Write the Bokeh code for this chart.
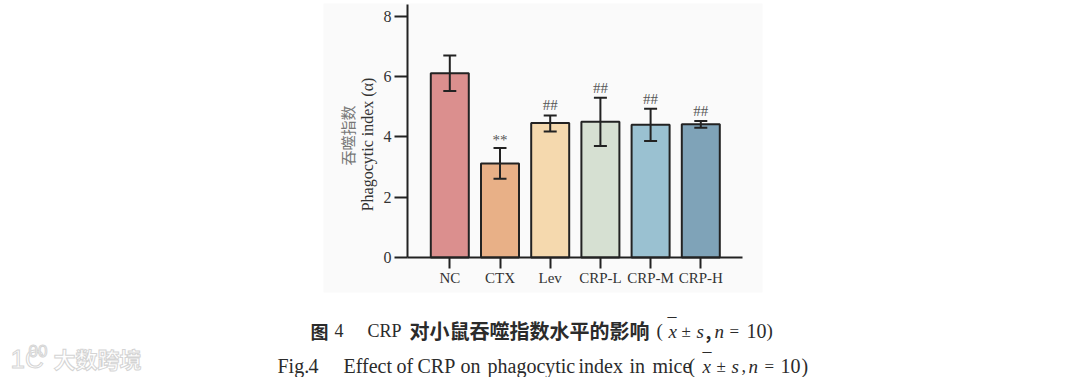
from bokeh.plotting import figure
from bokeh.models import ColumnDataSource, Range1d, Label, Whisker, TeeHead, BoxAnnotation, FixedTicker
from bokeh.core.properties import value
from bokeh.embed import file_html
from bokeh.resources import INLINE
import math

groups = ["NC", "CTX", "Lev", "CRP-L", "CRP-M", "CRP-H"]
means = [6.11, 3.12, 4.46, 4.50, 4.40, 4.42]
upper = [6.70, 3.63, 4.71, 5.30, 4.93, 4.53]
lower = [5.52, 2.61, 4.18, 3.70, 3.86, 4.30]
colors = ["#DB8F8E", "#E8B087", "#F5D9AE", "#D6E0D2", "#9AC1D1", "#7FA3B8"]
marks = ["", "**", "##", "##", "##", "##"]
y_ticks = [0, 2, 4, 6, 8]

SERIF = "Liberation Serif"
CJK = "Noto Sans CJK SC"
caption_1 = [
    ("图", 310, 330, CJK, "bold", 18), ("4", 334, 330, SERIF, "normal", 18),
    ("CRP", 367, 330, SERIF, "normal", 18),
    ("对小鼠吞噬指数水平的影响", 409, 330, CJK, "bold", 20),
    ("(", 656, 330, SERIF, "normal", 19), ("x", 668, 331, SERIF, "italic", 19),
    ("–", 667, 315, SERIF, "normal", 18), ("±", 681, 331, SERIF, "normal", 17),
    ("s", 696, 331, SERIF, "italic", 19), (",", 705, 331, CJK, "bold", 18),
    ("n", 714, 331, SERIF, "italic", 19), ("=", 729, 331, SERIF, "normal", 17),
    ("10", 746, 330, SERIF, "normal", 20), (")", 766, 330, SERIF, "normal", 19),
]
caption_2 = [
    ("Fig.", 277, 365, SERIF, "normal", 20), ("4", 308, 365, SERIF, "normal", 20),
    ("Effect", 343, 365, SERIF, "normal", 20), ("of", 396, 365, SERIF, "normal", 20),
    ("CRP", 417, 365, SERIF, "normal", 20), ("on", 460, 365, SERIF, "normal", 20),
    ("phagocytic", 487, 365, SERIF, "normal", 20), ("index", 578, 365, SERIF, "normal", 20),
    ("in", 629, 365, SERIF, "normal", 20), ("mice", 652, 365, SERIF, "normal", 20),
    ("(", 688, 365, SERIF, "normal", 20), ("x", 702, 366, SERIF, "italic", 19),
    ("–", 702, 350, SERIF, "normal", 18), ("±", 716, 366, SERIF, "normal", 17),
    ("s", 731, 366, SERIF, "italic", 19), (",", 741, 365, SERIF, "normal", 18),
    ("n", 748, 366, SERIF, "italic", 19), ("=", 764, 366, SERIF, "normal", 17),
    ("10", 780, 365, SERIF, "normal", 20), (")", 801, 365, SERIF, "normal", 20),
]

W, H = 1080, 377
X0, DX = 449.3, 50.2   # page x of first category, px per category
Y0, DY = 257, 30.16    # page y of value 0, px per unit
AX_L, AX_R, AX_T = 407, 741.6, 4

xs = list(range(len(groups)))
src = ColumnDataSource(dict(x=xs, m=means, u=upper, l=lower, c=colors, t=marks,
                            off=[0 if t == "**" else -2 for t in marks]))

p = figure(width=W, height=H, output_backend="svg", toolbar_location=None,
           x_range=Range1d(-X0 / DX, (W - X0) / DX),
           y_range=Range1d(-(H - Y0) / DY, Y0 / DY),
           min_border=0, x_axis_location="below", y_axis_location="left")
p.outline_line_color = None
p.grid.visible = False
p.background_fill_color = "#ffffff"
p.border_fill_color = "#ffffff"


def page_label(txt, x, y, font, style, size, color="#2b2b2b", angle=0, align="left", **kw):
    return Label(x=x, y=y, x_units="canvas", y_units="canvas", text=txt,
                 text_font=font, text_font_style=style, text_font_size=f"{size}px",
                 text_color=color, text_baseline="middle", text_align=align, angle=angle, **kw)


p.add_layout(BoxAnnotation(left=323, right=762, top=3, bottom=292,
                           left_units="canvas", right_units="canvas", top_units="canvas", bottom_units="canvas",
                           fill_color="#fafafa", fill_alpha=1, line_color=None, level="underlay"))

p.vbar(x="x", top="m", width=38 / DX, bottom=0, source=src, fill_color="c",
       line_color="#222222", line_width=2)
p.add_layout(Whisker(base="x", upper="u", lower="l", source=src, line_color="#222222", line_width=2,
                     level="annotation",
                     upper_head=TeeHead(size=13, line_color="#222222", line_width=2),
                     lower_head=TeeHead(size=13, line_color="#222222", line_width=2)))
p.text(x="x", y="u", text="t", source=src, text_align="center", text_baseline="bottom",
       text_font=value(SERIF), text_font_size="15px", text_color="#555555", y_offset="off")

xax, yax = p.xaxis[0], p.yaxis[0]
for ax in (xax, yax):
    ax.axis_line_color = "#222222"
    ax.axis_line_width = 2
    ax.major_tick_line_color = "#222222"
    ax.major_tick_line_width = 2
    ax.minor_tick_line_color = None
    ax.major_tick_in = 0
    ax.major_label_text_font = SERIF
    ax.major_label_text_font_size = "15px"
    ax.major_label_text_color = "#333333"
yax.ticker = FixedTicker(ticks=y_ticks)
yax.fixed_location = (AX_L - X0) / DX
yax.bounds = (0, (Y0 - AX_T) / DY)
yax.major_tick_out = 13
yax.major_label_standoff = 3
yax.major_label_text_font_size = "16px"
xax.ticker = FixedTicker(ticks=xs)
xax.major_label_overrides = dict(zip(xs, groups))
xax.fixed_location = 0
xax.bounds = ((AX_L - X0) / DX, (AX_R - X0) / DX)
xax.major_tick_out = 11
xax.major_label_standoff = 1

p.add_layout(page_label("Phagocytic index (α)", 367, 144, SERIF, "normal", 16, "#333333", math.pi / 2, "center"))
p.add_layout(page_label("吞噬指数", 347, 135, CJK, "normal", 15, "#777777", math.pi / 2, "center"))

for row in caption_1 + caption_2:
    p.add_layout(page_label(*row))

p.add_layout(page_label("大数跨境", 53, 357, CJK, "bold", 22, "#ffffff", text_outline_color="#d4d4d4"))
p.add_layout(page_label("1C", 10, 358, "Liberation Sans", "normal", 26, "#ffffff", text_outline_color="#d4d4d4"))
p.add_layout(page_label("00", 28, 350, "Liberation Sans", "normal", 17, "#ffffff", text_outline_color="#d4d4d4"))

open("out.html", "w").write(file_html(p, INLINE))
